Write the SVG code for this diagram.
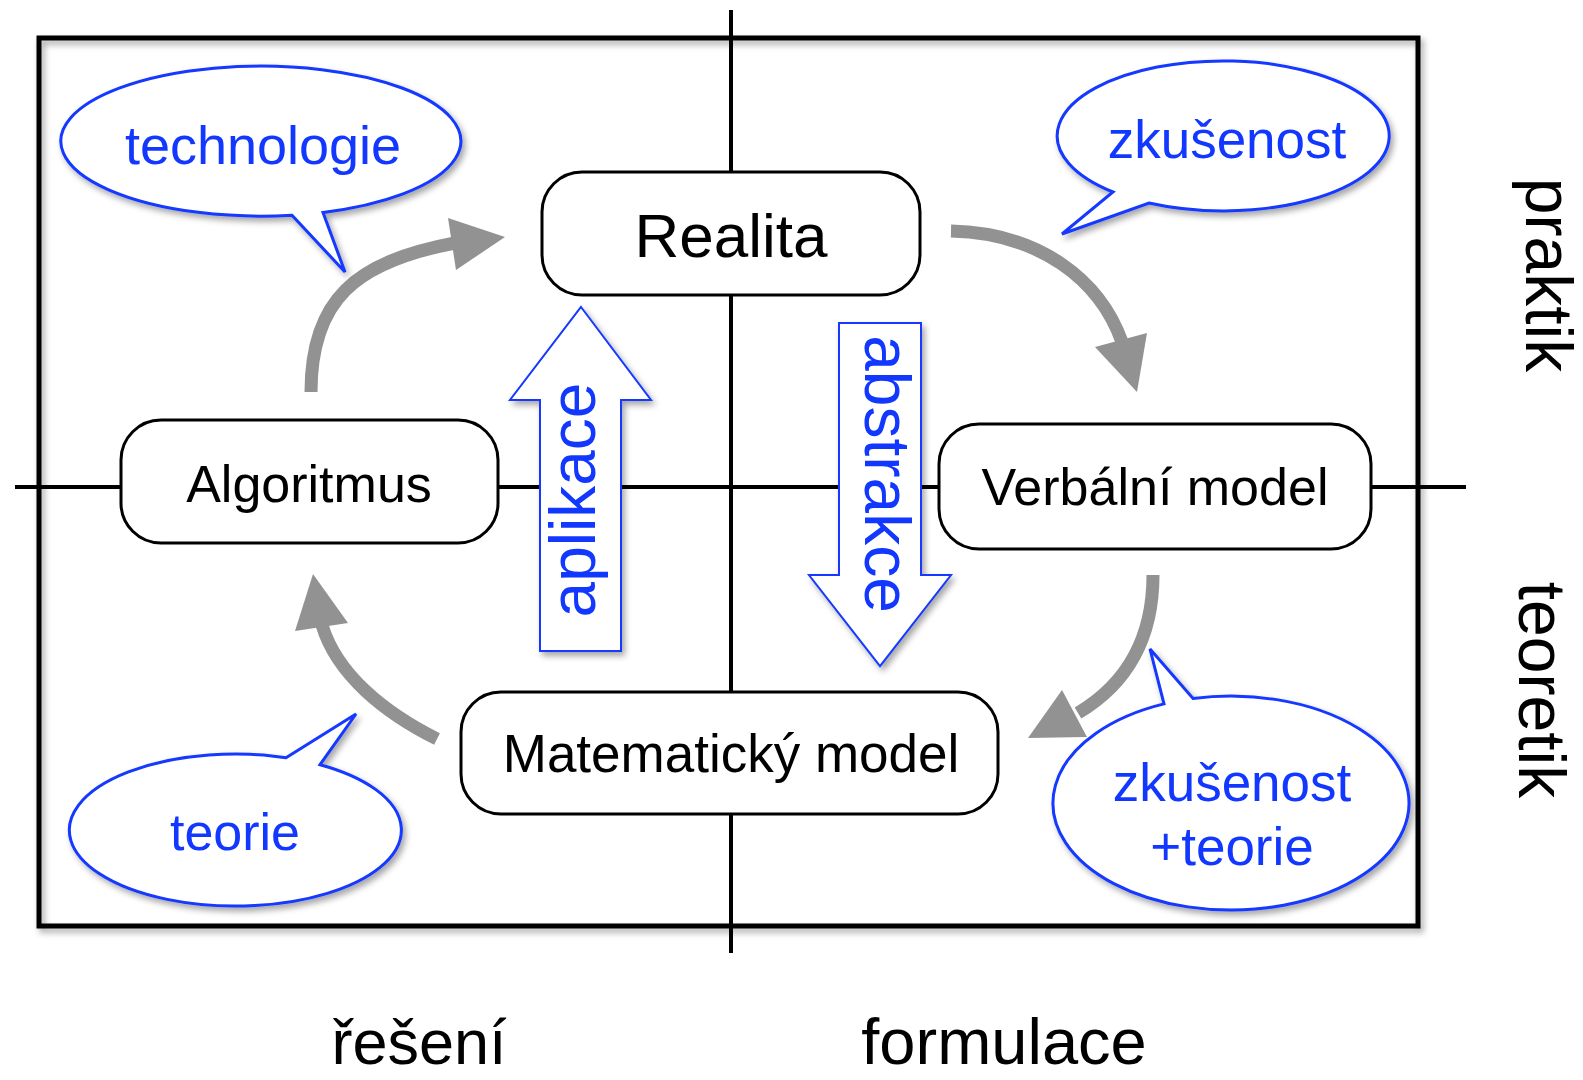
<svg xmlns="http://www.w3.org/2000/svg" width="1583" height="1080" viewBox="0 0 1583 1080">
<style>
  .axis{stroke:#000;stroke-width:4;fill:none}
  .frame{stroke:#000;stroke-width:5;fill:none}
  .node rect{fill:#fff;stroke:#000;stroke-width:3}
  .node text{font-family:"Liberation Sans",Arial,sans-serif;fill:#000;text-anchor:middle}
  .bubble path{fill:#fff;stroke:#1238ff;stroke-width:3;stroke-linejoin:miter}
  .blue{font-family:"Liberation Sans",Arial,sans-serif;fill:#1238ff;text-anchor:middle}
  .block{fill:#fff;stroke:#1238ff;stroke-width:2}
  .shaft{fill:none;stroke:#929292;stroke-width:13}
  .head{fill:#929292}
  .label{font-family:"Liberation Sans",Arial,sans-serif;fill:#000;text-anchor:middle}
</style>
<defs>
  <filter id="sh" x="-20%" y="-20%" width="140%" height="140%">
    <feDropShadow dx="3" dy="4" stdDeviation="3" flood-color="#000" flood-opacity="0.35"/>
  </filter>
</defs>
<rect width="1583" height="1080" fill="#fff"/>
<rect class="frame" x="39" y="38" width="1379" height="888" filter="url(#sh)"/>
<line class="axis" x1="731" y1="10" x2="731" y2="953"/>
<line class="axis" x1="15" y1="487" x2="1466" y2="487"/>

<g id="aplikace">
  <polygon class="block" filter="url(#sh)" points="581,307 651,400 621,400 621,651 540,651 540,400 510,400"/>
  <text class="blue" font-size="64" transform="translate(595,500) rotate(-90)">aplikace</text>
</g>
<g id="abstrakce">
  <polygon class="block" filter="url(#sh)" points="839,323 921,323 921,575 951,575 880,666 809,575 839,575"/>
  <text class="blue" font-size="64" transform="translate(865,474) rotate(90)">abstrakce</text>
</g>

<g id="realita" class="node">
  <rect x="542" y="172" width="378" height="123" rx="40"/>
  <text x="731" y="257" font-size="62">Realita</text>
</g>
<g id="algoritmus" class="node">
  <rect x="121" y="420" width="377" height="123" rx="40"/>
  <text x="309" y="502" font-size="52">Algoritmus</text>
</g>
<g id="verbalni" class="node">
  <rect x="939" y="424" width="432" height="125" rx="40"/>
  <text x="1155" y="505" font-size="52">Verbální model</text>
</g>
<g id="matematicky" class="node">
  <rect x="461" y="692" width="537" height="122" rx="40"/>
  <text x="731" y="772" font-size="53">Matematický model</text>
</g>

<g id="connectors">
  <path class="shaft" d="M311,392 C311,300 355,262 455,243"/>
  <polygon class="head" points="505,237 448,218 456,270"/>
  <path class="shaft" d="M951,231 C1040,233 1100,280 1122,342"/>
  <polygon class="head" points="1137,392 1095,347 1147,333"/>
  <path class="shaft" d="M1153,575 C1153,640 1125,685 1078,713"/>
  <polygon class="head" points="1028,738 1062,690 1087,737"/>
  <path class="shaft" d="M437,739 C385,713 337,675 322,625"/>
  <polygon class="head" points="313,574 295,631 348,623"/>
</g>

<g id="bubble-technologie" class="bubble">
  <path filter="url(#sh)" d="M323,212.4 A200 75 0 1 0 292,215.2 L345,272 Z"/>
  <text class="blue" x="263" y="164" font-size="54">technologie</text>
</g>
<g id="bubble-zkusenost" class="bubble">
  <path filter="url(#sh)" d="M1149,203 A166 75 0 1 0 1113,192 L1062,234 Z"/>
  <text class="blue" x="1227" y="158" font-size="53">zkušenost</text>
</g>
<g id="bubble-teorie" class="bubble">
  <path filter="url(#sh)" d="M286,757.7 L356,714 L320,764.7 A166 76 0 1 1 286,757.7 Z"/>
  <text class="blue" x="235" y="850" font-size="52">teorie</text>
</g>
<g id="bubble-zkusenost-teorie" class="bubble">
  <path filter="url(#sh)" d="M1164,703.9 L1150,649 L1193,698.5 A178 107 0 1 1 1164,703.9 Z"/>
  <text class="blue" x="1232" y="801" font-size="53">zkušenost</text>
  <text class="blue" x="1232" y="865" font-size="53">+teorie</text>
</g>

<g id="side-labels">
  <text class="label" font-size="66" transform="translate(1526,275) rotate(90)">praktik</text>
  <text class="label" font-size="66" transform="translate(1519,690) rotate(90)">teoretik</text>
  <text class="label" font-size="63" x="419" y="1064">řešení</text>
  <text class="label" font-size="65" x="1004" y="1064">formulace</text>
</g>
</svg>
